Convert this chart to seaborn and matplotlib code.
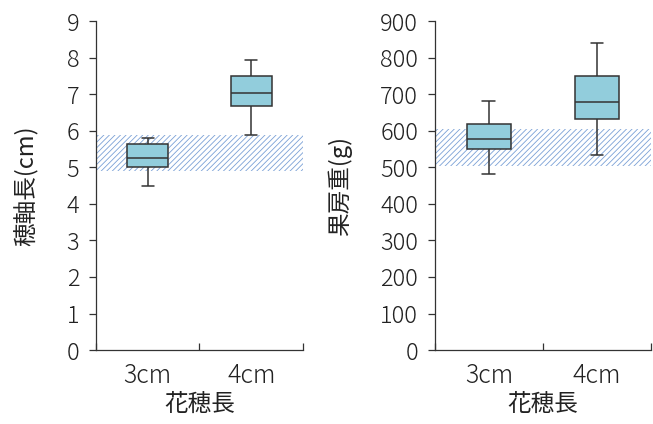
import numpy as np
import pandas as pd
import matplotlib
matplotlib.use('Agg')
import matplotlib.pyplot as plt
import seaborn as sns

# values (min, Q1, median, Q3, max)
categories = ['3cm', '4cm']
axis_len_3cm = [4.48, 5.0, 5.26, 5.63, 5.82]
axis_len_4cm = [5.89, 6.68, 7.04, 7.51, 7.93]
weight_3cm = [482, 550, 579, 620, 681]
weight_4cm = [533, 633, 678, 750, 841]

# hatched reference bands
len_band = [4.9, 5.9]
weight_band = [505, 605]

len_ticks = list(range(0, 10))
weight_ticks = list(range(0, 1000, 100))

sns.set_style('ticks')
plt.rcParams['font.family'] = ['Noto Sans CJK JP', 'DejaVu Sans']
plt.rcParams['font.weight'] = 'light'
plt.rcParams['hatch.linewidth'] = 0.6

df_len = pd.DataFrame({
    'group': [categories[0]] * len(axis_len_3cm) + [categories[1]] * len(axis_len_4cm),
    'value': axis_len_3cm + axis_len_4cm,
})
df_wt = pd.DataFrame({
    'group': [categories[0]] * len(weight_3cm) + [categories[1]] * len(weight_4cm),
    'value': weight_3cm + weight_4cm,
})

fig = plt.figure(figsize=(6.53, 4.24), dpi=100)
ax1 = fig.add_axes([0.147, 0.1745, 0.317, 0.775])
ax2 = fig.add_axes([0.666, 0.1745, 0.331, 0.775])

box_col = '#92cddc'
edge_col = '#333333'
hatch_col = '#7aa0d6'
txt_col = '#222222'

panels = [
    (ax1, df_len, len_band, len_ticks, '穂軸長(cm)', (0, 9), 20),
    (ax2, df_wt, weight_band, weight_ticks, '果房重(g)', (0, 900), 20),
]

for ax, df, band, yt, ylab, ylim, lpad in panels:
    ax.axhspan(band[0], band[1], facecolor='none', edgecolor=hatch_col,
               hatch='//////', linewidth=0, zorder=0)
    sns.boxplot(data=df, x='group', y='value', order=categories, ax=ax,
                whis=(0, 100), width=0.4, color=box_col, saturation=1,
                linecolor=edge_col, linewidth=1.1, capwidths=0.12,
                showfliers=False)
    ax.set_xlim(-0.5, 1.5)
    ax.set_ylim(*ylim)
    ax.set_yticks(yt)
    ax.set_xticks([0, 1])
    ax.set_xticklabels(categories)
    ax.set_xticks([-0.5, 0.5, 1.5], minor=True)
    ax.tick_params(axis='x', which='major', length=0, pad=9, labelsize=18, labelcolor=txt_col)
    ax.tick_params(axis='x', which='minor', direction='in', length=5, width=0.9, color=edge_col)
    ax.tick_params(axis='y', direction='out', length=5, width=0.9, color=edge_col,
                   pad=7, labelsize=17, labelcolor=txt_col)
    ax.set_xlabel('花穂長', fontsize=17, color=txt_col, labelpad=3)
    ax.set_ylabel(ylab, fontsize=17, color=txt_col, labelpad=lpad)
    sns.despine(ax=ax)
    for s in ['left', 'bottom']:
        ax.spines[s].set_color(edge_col)
        ax.spines[s].set_linewidth(0.9)

fig.savefig('out.png', dpi=100)
